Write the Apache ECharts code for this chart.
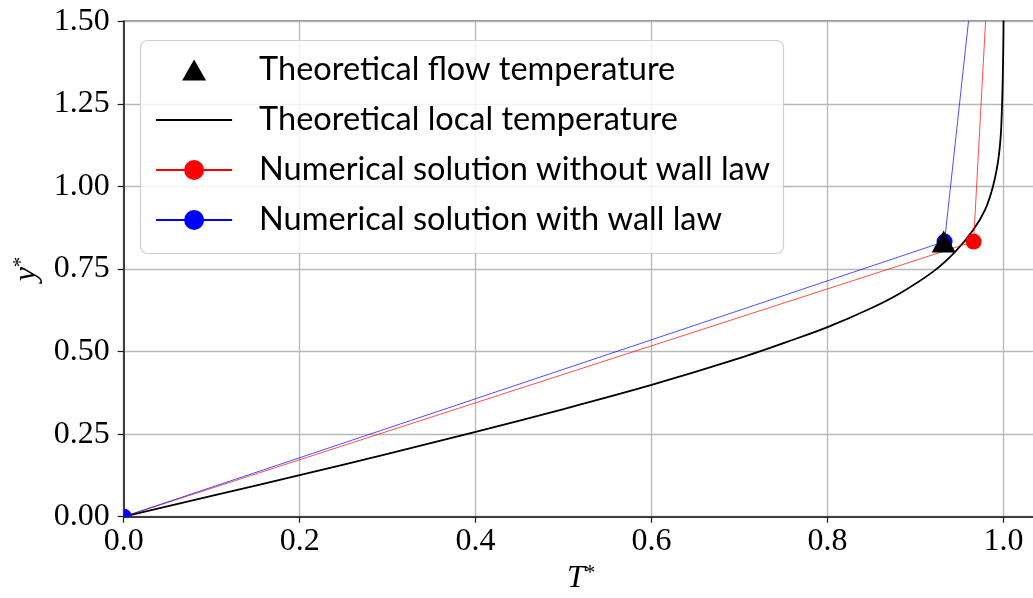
<!DOCTYPE html>
<html>
<head>
<meta charset="utf-8">
<script src="https://cdn.jsdelivr.net/npm/echarts@6/dist/echarts.min.js"></script>
<style>
html,body{margin:0;padding:0;background:#fff;}
#chart{width:1033px;height:598px;}
</style>
</head>
<body>
<div id="chart"></div>
<script>
// ---- data ----
const flowT = [0.932];
const flowY = [0.833];

const localT = [0, 0.1, 0.2, 0.3, 0.4, 0.5, 0.6, 0.7, 0.76, 0.8, 0.85, 0.882, 0.92, 0.945, 0.9655, 0.979, 0.988, 0.994, 0.997, 0.9985, 0.9995, 1.0, 1.0];
const localY = [0, 0.063, 0.126, 0.19, 0.257, 0.326, 0.399, 0.48, 0.535, 0.574, 0.632, 0.676, 0.742, 0.802, 0.868, 0.929, 1.0, 1.08, 1.16, 1.26, 1.38, 1.5, 1.6];

const noWallT = [0, 0.966, 0.983];
const noWallY = [0, 0.833, 1.667];

const wallT = [0, 0.933, 0.967];
const wallY = [0, 0.833, 1.667];

const xTicks = [0, 0.2, 0.4, 0.6, 0.8, 1.0];
const yTicks = [0, 0.25, 0.5, 0.75, 1.0, 1.25, 1.5];

const names = [
  'Theoretical flow temperature',
  'Theoretical local temperature',
  'Numerical solution without wall law',
  'Numerical solution with wall law'
];

// ---- helpers ----
const pairs = (xs, ys) => xs.map((x, i) => [x, ys[i]]);
// point sitting on the axes corner: only the quarter inside the plot is visible
const cornerSymbol = 'path://M0,0 L0,-10 A10,10 0 0 1 10,0 Z';
const markerData = (xs, ys) => pairs(xs, ys).map(p => {
  if (p[0] === 0 && p[1] === 0) {
    return { value: p, symbol: cornerSymbol, symbolSize: 8, symbolOffset: [4, -4] };
  }
  return { value: p };
});

// legend icons drawn inside a 76x25 box so that they are not stretched
const legendTriangle = 'path://M0,0 M76,25 M38,2 L50,23 L26,23 Z';
const legendLine = 'path://M0,0 M76,25 M0,11.6 L76,11.6 L76,13.4 L0,13.4 Z';

const serif = '"Liberation Serif", "DejaVu Serif", serif';
const sans = 'Lato, "Liberation Sans", sans-serif';

const chart = echarts.init(document.getElementById('chart'), null, { renderer: 'canvas' });

const option = {
  animation: false,
  backgroundColor: '#ffffff',
  grid: {
    left: 123.7,
    top: 21.3,
    width: 915,
    height: 495.4,
    outerBoundsMode: 'none',
    containLabel: false,
    show: true,
    borderColor: '#1a1a1a',
    borderWidth: 1.5,
    backgroundColor: 'transparent'
  },
  xAxis: {
    type: 'value',
    min: 0,
    max: 1.04,
    interval: 0.2,
    name: '{i|T}{s|*}',
    nameLocation: 'middle',
    nameGap: 44,
    nameTextStyle: {
      rich: {
        i: { fontFamily: serif, fontStyle: 'italic', fontSize: 32, color: '#000' },
        s: { fontFamily: serif, fontSize: 21, color: '#000', verticalAlign: 'top' }
      }
    },
    axisLine: { show: true, onZero: false, lineStyle: { color: '#1a1a1a', width: 1.5 } },
    axisTick: { show: true, length: 6, lineStyle: { color: '#1a1a1a', width: 1.2 } },
    splitLine: { show: true, lineStyle: { color: '#b8b8b8', width: 1.3 } },
    axisLabel: {
      margin: 9,
      fontFamily: serif,
      fontSize: 32,
      color: '#000',
      formatter: v => (xTicks.some(t => Math.abs(t - v) < 1e-9) ? v.toFixed(1) : '')
    }
  },
  yAxis: {
    type: 'value',
    min: 0,
    max: 1.5,
    interval: 0.25,
    name: '{i|y}{s|*}',
    nameLocation: 'middle',
    nameGap: 77,
    nameRotate: 90,
    nameTextStyle: {
      rich: {
        i: { fontFamily: serif, fontStyle: 'italic', fontSize: 32, color: '#000' },
        s: { fontFamily: serif, fontSize: 21, color: '#000', verticalAlign: 'top' }
      }
    },
    axisLine: { show: true, onZero: false, lineStyle: { color: '#1a1a1a', width: 1.5 } },
    axisTick: { show: true, length: 6, lineStyle: { color: '#1a1a1a', width: 1.2 } },
    splitLine: { show: true, lineStyle: { color: '#b8b8b8', width: 1.3 } },
    axisLabel: {
      margin: 14,
      fontFamily: serif,
      fontSize: 32,
      color: '#000',
      formatter: v => (yTicks.some(t => Math.abs(t - v) < 1e-9) ? v.toFixed(2) : '')
    }
  },
  graphic: [{
    type: 'rect',
    z: 3,
    shape: { x: 140.5, y: 40.5, width: 643, height: 213, r: 7 },
    style: { fill: 'rgba(255,255,255,0.82)', stroke: '#d0d0d0', lineWidth: 1.2 }
  }],
  legend: {
    z: 5,
    orient: 'vertical',
    left: 155,
    top: 53,
    itemWidth: 76,
    itemHeight: 25,
    itemGap: 16,
    padding: 0,
    selectedMode: false,
    textStyle: {
      fontFamily: sans,
      fontSize: 32.5,
      lineHeight: 34,
      color: '#000',
      padding: [0, 0, 0, 22]
    },
    lineStyle: { width: 2.2 },
    data: [
      { name: names[0], icon: legendTriangle, itemStyle: { color: '#000', opacity: 1 } },
      { name: names[1], icon: legendLine, itemStyle: { color: '#000', opacity: 1 } },
      { name: names[2] },
      { name: names[3] }
    ]
  },
  series: [
    {
      name: names[1],
      type: 'line',
      data: pairs(localT, localY),
      showSymbol: false,
      symbol: 'none',
      smooth: 0.3,
      clip: true,
      color: '#000',
      lineStyle: { color: '#000', width: 1.8 },
      z: 2
    },
    {
      name: names[2],
      type: 'line',
      data: markerData(noWallT, noWallY),
      symbol: 'circle',
      symbolSize: 16,
      showAllSymbol: true,
      clip: true,
      color: '#ff0000',
      itemStyle: { color: '#ff0000' },
      lineStyle: { color: '#ff0000', width: 0.7 },
      z: 3
    },
    {
      name: names[3],
      type: 'line',
      data: markerData(wallT, wallY),
      symbol: 'circle',
      symbolSize: 16,
      showAllSymbol: true,
      clip: true,
      color: '#0000ff',
      itemStyle: { color: '#0000ff' },
      lineStyle: { color: '#0000ff', width: 0.7 },
      z: 4
    },
    {
      name: names[0],
      type: 'scatter',
      data: pairs(flowT, flowY),
      symbol: 'triangle',
      symbolSize: [24, 22],
      color: '#000',
      itemStyle: { color: '#000', opacity: 1 },
      zlevel: 1,
      z: 10
    }
  ]
};

chart.setOption(option);
</script>
</body>
</html>
